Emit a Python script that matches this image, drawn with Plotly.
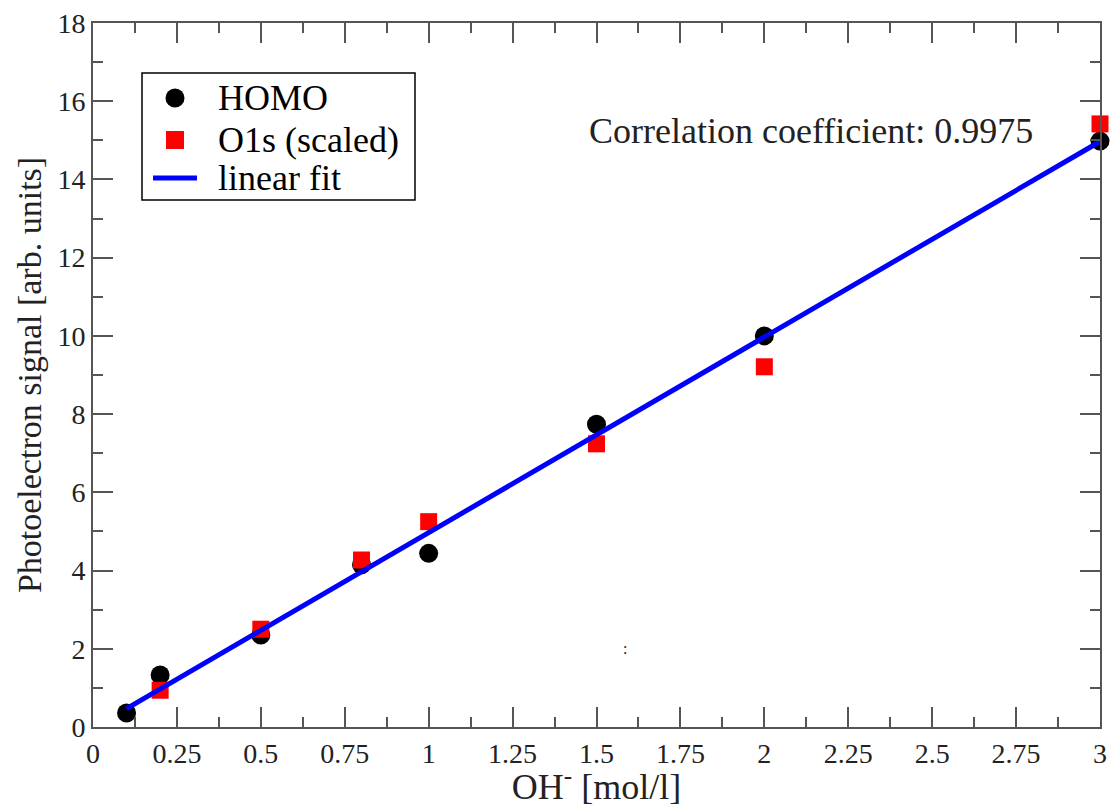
import plotly.graph_objects as go

# OH- concentration [mol/l]
homo_x = [0.1, 0.2, 0.5, 0.8, 1.0, 1.5, 2.0, 3.0]
homo_y = [0.36, 1.33, 2.35, 4.15, 4.44, 7.74, 10.0, 14.98]

o1s_x = [0.2, 0.5, 0.8, 1.0, 1.5, 2.0, 3.0]
o1s_y = [0.94, 2.5, 4.27, 5.25, 7.24, 9.21, 15.42]

fit_x = [0.1, 3.0]
fit_y = [0.47, 14.97]

x_ticks = [0, 0.25, 0.5, 0.75, 1, 1.25, 1.5, 1.75, 2, 2.25, 2.5, 2.75, 3]
x_tick_text = ["0", "0.25", "0.5", "0.75", "1", "1.25", "1.5", "1.75", "2",
               "2.25", "2.5", "2.75", "3"]
y_ticks = [0, 2, 4, 6, 8, 10, 12, 14, 16, 18]

legend_names = ["HOMO", "O1s (scaled)", "linear fit"]

FONT = "Liberation Serif"
AXIS_COLOR = "#555555"
TEXT_COLOR = "#222222"
HOMO_COLOR = "black"
O1S_COLOR = "#ff0000"
FIT_COLOR = "#0000ff"

W, H = 1112, 807
M_L, M_R, M_T, M_B = 93, 12, 23, 80
PLOT_W = W - M_L - M_R
PLOT_H = H - M_T - M_B


def px(xp):
    """Pixel column -> paper x."""
    return (xp - M_L) / PLOT_W


def py(yp):
    """Pixel row -> paper y."""
    return (H - M_B - yp) / PLOT_H


fig = go.Figure()
fig.add_trace(go.Scatter(
    x=homo_x, y=homo_y, mode="markers", name=legend_names[0], showlegend=False,
    marker=dict(symbol="circle", size=19, color=HOMO_COLOR), cliponaxis=False,
))
fig.add_trace(go.Scatter(
    x=o1s_x, y=o1s_y, mode="markers", name=legend_names[1], showlegend=False,
    marker=dict(symbol="square", size=17, color=O1S_COLOR), cliponaxis=False,
))
fig.add_trace(go.Scatter(
    x=fit_x, y=fit_y, mode="lines", name=legend_names[2], showlegend=False,
    line=dict(color=FIT_COLOR, width=5), cliponaxis=False,
))

axis_common = dict(
    showline=True, linecolor=AXIS_COLOR, linewidth=2, mirror="allticks",
    ticks="inside", ticklen=20, tickwidth=2, tickcolor=AXIS_COLOR,
    showgrid=False, zeroline=False, automargin=False,
    tickfont=dict(family=FONT, size=28, color=TEXT_COLOR),
)

fig.update_xaxes(
    range=[0, 3], tickvals=x_ticks, ticktext=x_tick_text,
    minor=dict(ticks="inside", ticklen=10, tickwidth=2, tickcolor=AXIS_COLOR,
               dtick=0.125, tick0=0, showgrid=False),
    title=dict(text="OH<sup>-</sup> [mol/l]",
               font=dict(family=FONT, size=36, color=TEXT_COLOR), standoff=4),
    **axis_common,
)
fig.update_yaxes(
    range=[0, 18], tickvals=y_ticks,
    minor=dict(ticks="inside", ticklen=10, tickwidth=2, tickcolor=AXIS_COLOR,
               dtick=1, tick0=0, showgrid=False),
    title=dict(text="Photoelectron signal [arb. units]",
               font=dict(family=FONT, size=34, color=TEXT_COLOR), standoff=6),
    **axis_common,
)

fig.add_annotation(
    x=2.139, y=15.25, xref="x", yref="y", text="Correlation coefficient: 0.9975",
    showarrow=False, font=dict(family=FONT, size=36, color=TEXT_COLOR),
)
fig.add_annotation(
    x=1.585, y=2.0, xref="x", yref="y", text=":", showarrow=False,
    font=dict(family=FONT, size=16, color=TEXT_COLOR),
)

# Legend box drawn by hand so its rows sit close together
fig.add_shape(
    type="rect", xref="paper", yref="paper",
    x0=px(142), x1=px(415), y0=py(200), y1=py(73),
    line=dict(color="black", width=1.5), fillcolor="white", layer="above",
)
row_y = [98, 140, 178]
sym_x = 175
fig.add_shape(
    type="circle", xref="paper", yref="paper", xsizemode="pixel", ysizemode="pixel",
    xanchor=px(sym_x), yanchor=py(row_y[0]), x0=-9.5, x1=9.5, y0=-9.5, y1=9.5,
    line=dict(width=0), fillcolor=HOMO_COLOR, layer="above",
)
fig.add_shape(
    type="rect", xref="paper", yref="paper", xsizemode="pixel", ysizemode="pixel",
    xanchor=px(sym_x), yanchor=py(row_y[1]), x0=-9, x1=9, y0=-9, y1=9,
    line=dict(width=0), fillcolor=O1S_COLOR, layer="above",
)
fig.add_shape(
    type="line", xref="paper", yref="paper",
    x0=px(153), x1=px(197), y0=py(row_y[2]), y1=py(row_y[2]),
    line=dict(color=FIT_COLOR, width=5), layer="above",
)
for name, ry in zip(legend_names, row_y):
    fig.add_annotation(
        x=px(216), y=py(ry), xref="paper", yref="paper", text=name,
        xanchor="left", yanchor="middle", showarrow=False,
        font=dict(family=FONT, size=36, color="black"),
    )

fig.update_layout(
    width=W, height=H,
    margin=dict(l=M_L, r=M_R, t=M_T, b=M_B, autoexpand=False),
    plot_bgcolor="white", paper_bgcolor="white",
    showlegend=False,
)

fig.write_html("out.html")
